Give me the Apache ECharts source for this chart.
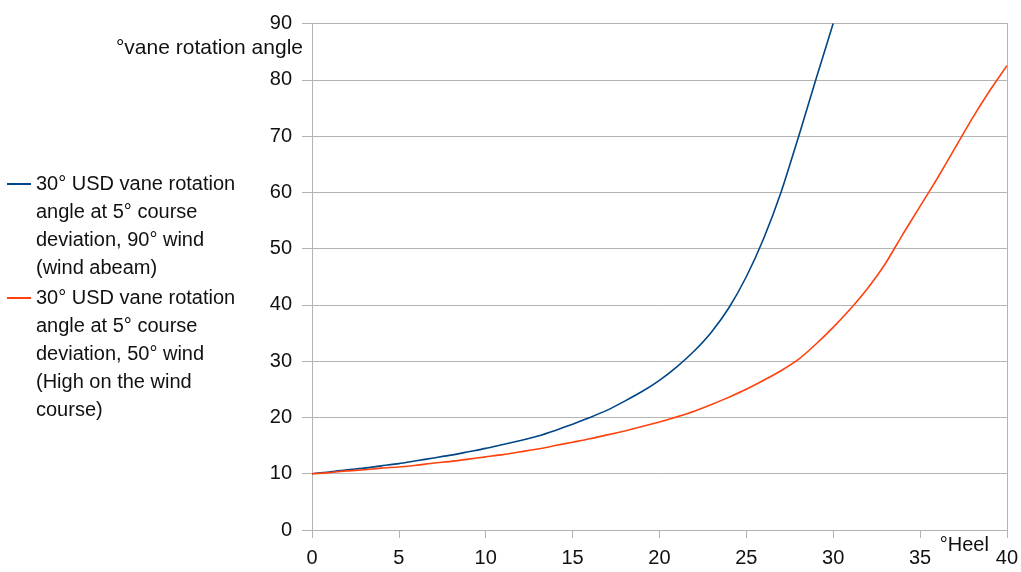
<!DOCTYPE html>
<html>
<head>
<meta charset="utf-8">
<script src="https://cdn.jsdelivr.net/npm/echarts@6/dist/echarts.min.js"></script>
<style>html,body{margin:0;padding:0;background:#fff;}#c{width:1021px;height:572px;}</style>
</head>
<body>
<div id="c"></div>
<script>
const heel = [0,1,2,3,4,5,6,7,8,9,10,11,12,13,14,15,16,17,18,19,20,21,22,23,24,25,26,27,28,29,30,31,32,33,34,35,36,37,38,39,40];
const wind90Values = [10,10.3,10.7,11.0,11.4,11.8,12.3,12.8,13.3,13.9,14.5,15.2,15.9,16.7,17.7,18.8,20.0,21.3,22.9,24.6,26.6,29.0,31.8,35.2,39.5,45.0,51.8,60.0,69.8,80.0,90];
const wind50Values = [10,10.2,10.5,10.7,11.0,11.2,11.5,11.9,12.2,12.6,13.0,13.4,13.9,14.4,15.0,15.6,16.2,16.9,17.6,18.4,19.2,20.1,21.1,22.3,23.6,25.0,26.6,28.3,30.3,33.0,36.0,39.3,43.0,47.3,52.5,57.5,62.5,67.8,73.1,78.0,82.5];
const seriesNames = [
  '30° USD vane rotation angle at 5° course deviation, 90° wind (wind abeam)',
  '30° USD vane rotation angle at 5° course deviation, 50° wind (High on the wind course)'
];
const legendLines = [
  ['30° USD vane rotation', 'angle at 5° course', 'deviation, 90° wind', '(wind abeam)'],
  ['30° USD vane rotation', 'angle at 5° course', 'deviation, 50° wind', '(High on the wind', 'course)']
];
const xTicks = {min: 0, max: 40, step: 5};
const yTicks = {min: 0, max: 90, step: 10};
const xName = '°Heel';
const yName = '°vane rotation angle';

const FONT = '"Liberation Sans", Arial, sans-serif';
const TXT = '#111';
const GRID = '#b3b3b3';
const LH = 28;
const FS = 20;

function pairs(xs, ys) { return ys.map((v, i) => [xs[i], v]); }

function legendFor(idx, iconY) {
  const n = legendLines[idx].length;
  const lines = [];
  for (let i = 0; i < n - 1; i++) lines.push(' ');
  const text = lines.concat(legendLines[idx]).join('\n');
  return {
    data: [seriesNames[idx]],
    left: 7, top: iconY - (2 * n - 1) * LH / 2, padding: 0,
    orient: 'vertical',
    icon: 'rect', itemWidth: 24, itemHeight: 2,
    selectedMode: false,
    formatter: () => text,
    textStyle: {fontFamily: FONT, fontSize: FS, color: TXT, lineHeight: LH}
  };
}

const chart = echarts.init(document.getElementById('c'), null, {renderer: 'canvas'});
chart.setOption({
  animation: false,
  backgroundColor: '#fff',
  grid: {left: 312, right: 13, top: 23.5, bottom: 42, containLabel: false},
  legend: [legendFor(0, 184), legendFor(1, 298)],
  xAxis: {
    type: 'value', min: xTicks.min, max: xTicks.max, interval: xTicks.step,
    name: xName, nameLocation: 'end', nameGap: -18,
    nameTextStyle: {fontFamily: FONT, fontSize: FS, color: TXT, align: 'right', verticalAlign: 'top', lineHeight: 30},
    axisLine: {show: true, lineStyle: {color: GRID, width: 1}},
    axisTick: {show: true, length: 8, lineStyle: {color: GRID}},
    axisLabel: {fontFamily: FONT, fontSize: 20, color: TXT, margin: 18},
    splitLine: {show: false}
  },
  yAxis: [{
    type: 'value', min: yTicks.min, max: yTicks.max, interval: yTicks.step,
    name: yName, nameLocation: 'end', nameGap: -25,
    nameTextStyle: {fontFamily: FONT, fontSize: 21, color: TXT, align: 'right', verticalAlign: 'middle', padding: [0, 9, 0, 0]},
    axisLine: {show: true, lineStyle: {color: GRID, width: 1}},
    axisTick: {show: true, length: 10, lineStyle: {color: GRID}},
    axisLabel: {fontFamily: FONT, fontSize: 20, color: TXT, margin: 20},
    splitLine: {show: true, lineStyle: {color: GRID, width: 1}}
  }, {
    type: 'value', position: 'right', min: yTicks.min, max: yTicks.max, interval: yTicks.step,
    axisLine: {show: true, lineStyle: {color: GRID, width: 1}},
    axisTick: {show: false}, axisLabel: {show: false}, splitLine: {show: false}
  }],
  series: [{
    name: seriesNames[0], type: 'line', showSymbol: false, symbol: 'none', smooth: 0.2,
    color: '#004586', lineStyle: {width: 1.6, color: '#004586'},
    data: pairs(heel, wind90Values)
  }, {
    name: seriesNames[1], type: 'line', showSymbol: false, symbol: 'none', smooth: 0.2,
    color: '#ff420e', lineStyle: {width: 1.6, color: '#ff420e'},
    data: pairs(heel, wind50Values)
  }]
});
</script>
</body>
</html>
